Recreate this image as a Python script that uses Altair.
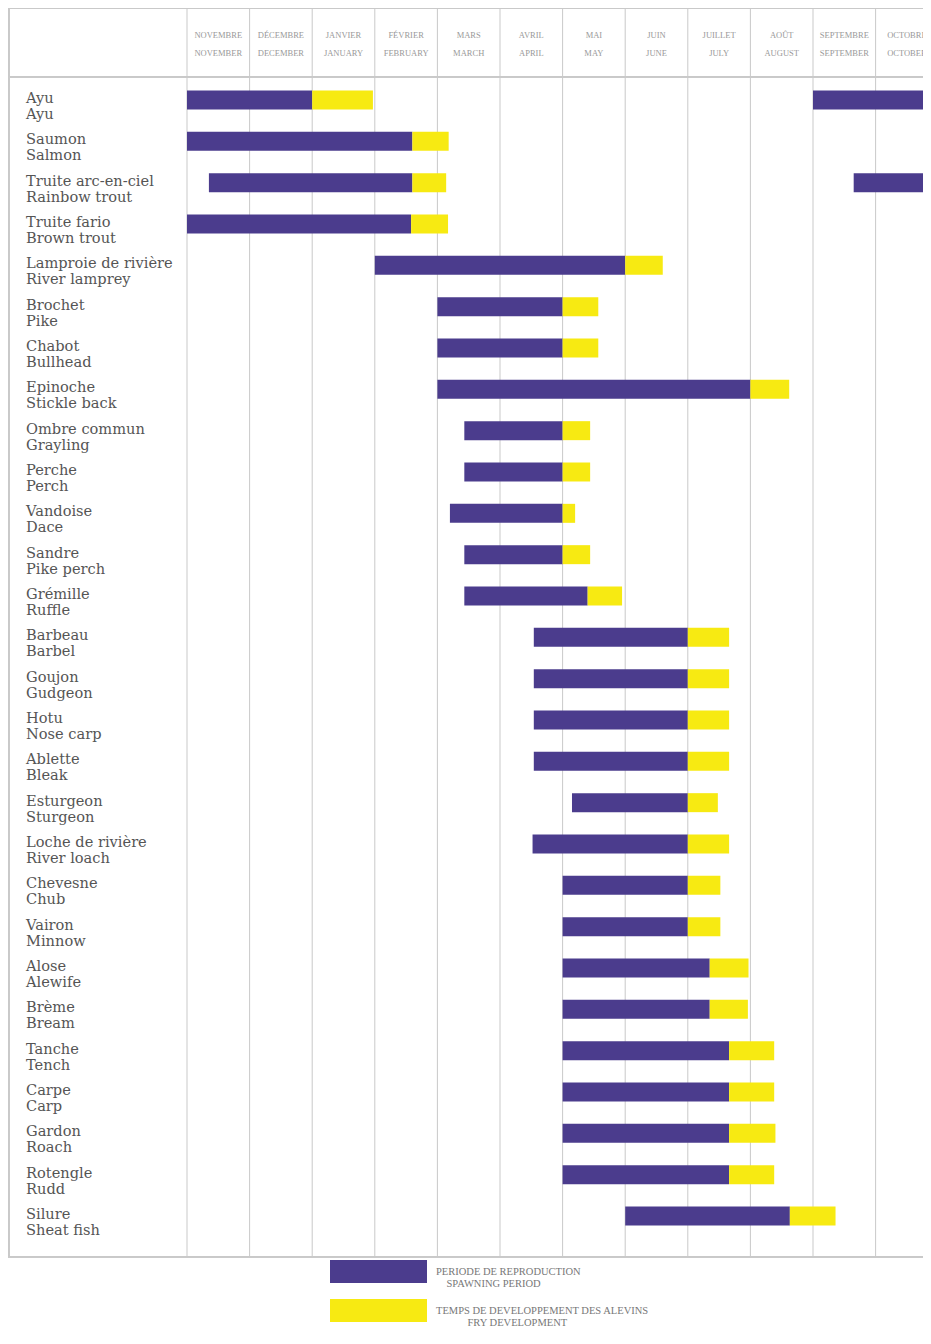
import altair as alt
import pandas as pd

# ---------------- data ----------------
fr_names = ["Ayu", "Saumon", "Truite arc-en-ciel", "Truite fario", "Lamproie de rivière",
            "Brochet", "Chabot", "Epinoche", "Ombre commun", "Perche", "Vandoise", "Sandre",
            "Grémille", "Barbeau", "Goujon", "Hotu", "Ablette", "Esturgeon", "Loche de rivière",
            "Chevesne", "Vairon", "Alose", "Brème", "Tanche", "Carpe", "Gardon", "Rotengle", "Silure"]
en_names = ["Ayu", "Salmon", "Rainbow trout", "Brown trout", "River lamprey",
            "Pike", "Bullhead", "Stickle back", "Grayling", "Perch", "Dace", "Pike perch",
            "Ruffle", "Barbel", "Gudgeon", "Nose carp", "Bleak", "Sturgeon", "River loach",
            "Chub", "Minnow", "Alewife", "Bream", "Tench", "Carp", "Roach", "Rudd", "Sheat fish"]

# months counted from the start of November (0) ; 12 = end of October
spawn_start = [0.0, 0.0, 0.35, 0.0, 3.0,
               4.0, 4.0, 4.0, 4.43, 4.43, 4.2, 4.43,
               4.43, 5.54, 5.54, 5.54, 5.54, 6.15, 5.52,
               6.0, 6.0, 6.0, 6.0, 6.0, 6.0, 6.0, 6.0, 7.0]
spawn_end = [2.0, 3.6, 3.6, 3.58, 7.0,
             6.0, 6.0, 9.0, 6.0, 6.0, 6.0, 6.0,
             6.4, 8.0, 8.0, 8.0, 8.0, 8.0, 8.0,
             8.0, 8.0, 8.35, 8.35, 8.66, 8.66, 8.66, 8.66, 9.63]
fry_end = [2.97, 4.18, 4.14, 4.17, 7.6,
           6.57, 6.57, 9.62, 6.44, 6.44, 6.2, 6.44,
           6.95, 8.66, 8.66, 8.66, 8.66, 8.48, 8.66,
           8.52, 8.52, 8.97, 8.96, 9.38, 9.38, 9.4, 9.38, 10.36]

# second (autumn) spawning segments
extra_species = [0, 2]
extra_start = [10.0, 10.65]
extra_end = [12.0, 12.0]

months_fr = ["NOVEMBRE", "DÉCEMBRE", "JANVIER", "FÉVRIER", "MARS", "AVRIL", "MAI",
             "JUIN", "JUILLET", "AOÛT", "SEPTEMBRE", "OCTOBRE"]
months_en = ["NOVEMBER", "DECEMBER", "JANUARY", "FEBRUARY", "MARCH", "APRIL", "MAY",
             "JUNE", "JULY", "AUGUST", "SEPTEMBER", "OCTOBER"]

legend_fr = ["PERIODE DE REPRODUCTION", "TEMPS DE DEVELOPPEMENT DES ALEVINS"]
legend_en = ["SPAWNING PERIOD", "FRY DEVELOPMENT"]

# ---------------- tables ----------------
kinds = [f"{a}|{b}" for a, b in zip(legend_fr, legend_en)]
rows = []
for i in range(len(fr_names)):
    rows.append({"idx": i, "start": spawn_start[i], "end": spawn_end[i], "kind": kinds[0]})
    rows.append({"idx": i, "start": spawn_end[i], "end": fry_end[i], "kind": kinds[1]})
for i, s, e in zip(extra_species, extra_start, extra_end):
    rows.append({"idx": i, "start": s, "end": e, "kind": kinds[0]})
bars_df = pd.DataFrame(rows)

labels_df = pd.DataFrame({"idx": list(range(len(fr_names))), "fr": fr_names, "en": en_names})
months_df = pd.DataFrame({"mid": [i + 0.5 for i in range(12)], "fr": months_fr, "en": months_en})
grid_df = pd.DataFrame({"b": list(range(13))})

# ---------------- styling ----------------
W, H = 915, 1320
PURPLE = "#4b3c8d"
YELLOW = "#f7ea12"
GRID = "#c9c9c9"
SERIF = "DejaVu Serif"
HEAD_FONT = "Liberation Serif"

xs = alt.Scale(domain=[0, 12], range=[179, 930.2], padding=0)
ys = alt.Scale(domain=[0, 27], range=[92, 1208], padding=0)

grid = alt.Chart(grid_df).mark_rule(color=GRID, strokeWidth=1).encode(
    x=alt.X("b:Q", scale=xs, axis=None),
    y=alt.value(0), y2=alt.value(1249))

def hline(yv):
    return alt.Chart(grid_df).mark_rule(color=GRID, strokeWidth=1).encode(
        x=alt.value(0), x2=alt.value(W), y=alt.value(yv))

left_border = alt.Chart(grid_df).mark_rule(color=GRID, strokeWidth=1).encode(
    x=alt.value(1), y=alt.value(0), y2=alt.value(1249))

# second legend line roughly centred under the first (zero-width char keeps the spaces from being trimmed)
SP = "\u2002" * 12
label_expr = ("[split(datum.label,'|')[0], "
              "'\u200b' + substring('" + SP + "', 0, floor(0.36*(length(split(datum.label,'|')[0]) - "
              "length(split(datum.label,'|')[1])))) + split(datum.label,'|')[1]]")

bars = alt.Chart(bars_df).mark_bar(size=19, orient="horizontal", clip=True).encode(
    x=alt.X("start:Q", scale=xs, axis=None),
    x2="end:Q",
    y=alt.Y("idx:Q", scale=ys, axis=None),
    color=alt.Color("kind:N",
                    scale=alt.Scale(domain=kinds, range=[PURPLE, YELLOW]),
                    legend=alt.Legend(
                        orient="none", legendX=358, legendY=1251, title=None,
                        direction="vertical",
                        symbolType="M-4,-0.95H4V0.95H-4Z", symbolSize=588,
                        symbolStrokeWidth=0, symbolOpacity=1,
                        rowPadding=8, labelOffset=45, labelLimit=400,
                        labelFont=HEAD_FONT, labelFontSize=10.5, labelColor="#777777",
                        labelExpr=label_expr, padding=0)),
)

fr_text = alt.Chart(labels_df).mark_text(
    align="left", baseline="middle", font=SERIF, fontSize=14.6, color="#555555", dy=-1
).encode(x=alt.value(18), y=alt.Y("idx:Q", scale=ys, axis=None), text="fr:N")

en_text = alt.Chart(labels_df).mark_text(
    align="left", baseline="middle", font=SERIF, fontSize=14.6, color="#555555", dy=15
).encode(x=alt.value(18), y=alt.Y("idx:Q", scale=ys, axis=None), text="en:N")

head_fr = alt.Chart(months_df).mark_text(
    align="center", baseline="middle", font=HEAD_FONT, fontSize=8.5, color="#999999"
).encode(x=alt.X("mid:Q", scale=xs, axis=None), y=alt.value(27), text="fr:N")

head_en = alt.Chart(months_df).mark_text(
    align="center", baseline="middle", font=HEAD_FONT, fontSize=8.5, color="#999999"
).encode(x=alt.X("mid:Q", scale=xs, axis=None), y=alt.value(45), text="en:N")

chart = alt.layer(
    grid, hline(0.5), hline(69), hline(1249), left_border,
    bars, fr_text, en_text, head_fr, head_en
).properties(
    width=W, height=H, autosize=alt.AutoSizeParams(type="none"), padding=0,
    background="white"
).configure_view(stroke=None)

chart.save("out.html", embed_options={"renderer": "svg", "actions": False})
